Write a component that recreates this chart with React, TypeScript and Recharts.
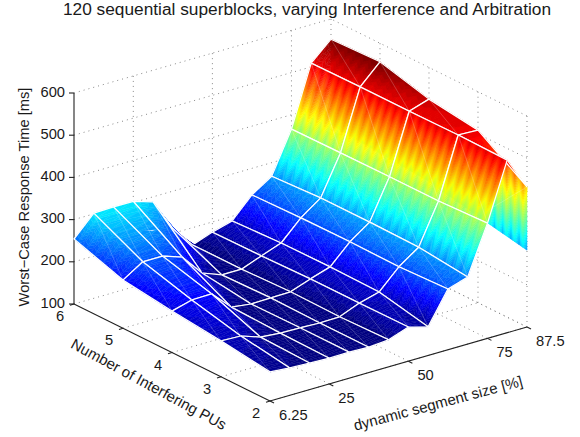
import React from 'react';
import { ScatterChart, Scatter, XAxis, YAxis } from 'recharts';

const segmentSizes = [6.25, 12.5, 18.75, 25, 31.25, 37.5, 43.75, 50, 56.25, 62.5, 68.75, 75, 81.25, 87.5];
const interferingPUs = [6, 5, 4, 3, 2];

const responsePU6 = [254, 302, 303, 303, 288, 212, 159, 176, 189, 237, 268, 366, 509, 552];
const responsePU5 = [214, 244, 244, 228, 177, 159, 159, 177, 194, 240, 274, 367, 510, 556];
const responsePU4 = [198, 211, 212, 167, 161, 162, 163, 180, 195, 241, 274, 368, 510, 525];
const responsePU3 = [185, 183, 167, 163, 162, 160, 161, 180, 193, 239, 272, 368, 511, 509];
const responsePU2 = [169, 165, 163, 161, 162, 160, 164, 181, 168, 244, 259, 373, 509, 432];
// the last column folds back down at the right wall of the box
const foldedEnd = [350, 340, 330, 305, 282];

const responseRows = [responsePU6, responsePU5, responsePU4, responsePU3, responsePU2];

const segmentTicks = [6.25, 25, 50, 75, 87.5];
const puTicks = [6, 5, 4, 3, 2];
const responseTicks = [100, 200, 300, 400, 500, 600];

const WIDTH = 580;
const HEIGHT = 437;
const COLOR_MIN = 160;
const COLOR_MAX = 555;
const COLOR_STEPS = 64;
// the original renderer leaves saw teeth on the colour bands
const TEETH = 6;
const TOOTH_DEPTH = 0.16;

type P3 = { u: number; v: number; z: number };

// fixed view of the box, same as the original camera
const project = (s: number, pu: number, z: number): P3 => ({
  u: 74 + (6 - pu) * 49 + (s - 6.25) * 3.163,
  v: 304 + (6 - pu) * 24.25 - (s - 6.25) * 0.911 - (z - 100) * 0.422,
  z,
});

const jet = (i: number) => {
  const x = i / (COLOR_STEPS - 1);
  const c = (a: number) => Math.round(Math.max(0, Math.min(1, a)) * 255);
  const r = c(Math.min(4 * x - 1.5, -4 * x + 4.5));
  const g = c(Math.min(4 * x - 0.5, -4 * x + 3.5));
  const b = c(Math.min(4 * x + 0.5, -4 * x + 2.5));
  return `rgb(${r},${g},${b})`;
};

const clipAt = (poly: P3[], level: number, keepAbove: boolean) => {
  const out: P3[] = [];
  const inside = (p: P3) => (keepAbove ? p.z >= level : p.z <= level);
  poly.forEach((p, i) => {
    const q = poly[(i + 1) % poly.length];
    if (inside(p)) out.push(p);
    if (inside(p) !== inside(q)) {
      const t = (level - p.z) / (q.z - p.z);
      out.push({ u: p.u + (q.u - p.u) * t, v: p.v + (q.v - p.v) * t, z: level });
    }
  });
  return out;
};

const bandIndex = (z: number) => {
  const step = (COLOR_MAX - COLOR_MIN) / COLOR_STEPS;
  return Math.max(0, Math.min(COLOR_STEPS - 1, Math.floor((z - COLOR_MIN) / step)));
};

const triangleBands = (tri: P3[]) => {
  const step = (COLOR_MAX - COLOR_MIN) / COLOR_STEPS;
  const bands: { points: P3[]; color: string }[] = [];
  const zs = tri.map((p) => p.z);
  const first = bandIndex(Math.min(...zs));
  const lastBand = bandIndex(Math.max(...zs));
  for (let i = first; i <= lastBand; i++) {
    let poly = tri;
    if (i > 0) poly = clipAt(poly, COLOR_MIN + i * step, true);
    if (poly.length && i < COLOR_STEPS - 1) poly = clipAt(poly, COLOR_MIN + (i + 1) * step, false);
    if (poly.length > 2) bands.push({ points: poly, color: jet(i) });
  }
  return bands;
};

const lerp = (a: P3, b: P3, t: number): P3 => ({
  u: a.u + (b.u - a.u) * t,
  v: a.v + (b.v - a.v) * t,
  z: a.z + (b.z - a.z) * t,
});

// a, d are one end of the quad, b, c the other; strips run from a-b towards d-c
const makeFacet = (a: P3, b: P3, c: P3, d: P3, mesh: boolean) => {
  const rise = (Math.abs(a.z - b.z) + Math.abs(d.z - c.z)) / 2;
  const shift = (t: number) => {
    const phase = (t * TEETH) % 1;
    return rise * TOOTH_DEPTH * ((phase < 0.5 ? phase * 2 : 2 - phase * 2) - 0.5);
  };
  const bands: { points: P3[]; color: string }[] = [];
  const strips = TEETH * 2;
  for (let i = 0; i < strips; i++) {
    const t0 = i / strips;
    const t1 = (i + 1) / strips;
    const at = (x: P3, y: P3, t: number) => {
      const p = lerp(x, y, t);
      return { ...p, z: p.z + shift(t) };
    };
    const p0 = at(a, d, t0);
    const q0 = at(b, c, t0);
    const q1 = at(b, c, t1);
    const p1 = at(a, d, t1);
    bands.push(...triangleBands([p0, q0, q1]), ...triangleBands([p0, q1, p1]));
  }
  return { u: (a.u + c.u) / 2, v: (a.v + c.v) / 2, corners: [a, b, c, d], bands, mesh };
};

const buildFacets = () => {
  const facets: ReturnType<typeof makeFacet>[] = [];
  const last = segmentSizes.length - 1;
  // folded part first, it sits behind everything
  for (let r = 0; r < interferingPUs.length - 1; r++) {
    const s = segmentSizes[last];
    facets.push(
      makeFacet(
        project(s, interferingPUs[r + 1], responseRows[r + 1][last]),
        project(s, interferingPUs[r + 1], foldedEnd[r + 1]),
        project(s, interferingPUs[r], foldedEnd[r]),
        project(s, interferingPUs[r], responseRows[r][last]),
        false,
      ),
    );
  }
  // back to front
  for (let r = 0; r < interferingPUs.length - 1; r++) {
    for (let k = last; k > 0; k--) {
      const pt = (row: number, col: number) => project(segmentSizes[col], interferingPUs[row], responseRows[row][col]);
      facets.push(makeFacet(pt(r, k), pt(r, k - 1), pt(r + 1, k - 1), pt(r + 1, k), true));
    }
  }
  return facets;
};

const facetData = buildFacets();

const FacetShape = (props: any) => {
  const { cx, cy, payload } = props;
  const dx = cx - payload.u;
  const dy = cy - payload.v;
  const str = (pts: P3[]) => pts.map((p) => `${(p.u + dx).toFixed(1)},${(p.v + dy).toFixed(1)}`).join(' ');
  const [a, b, c, d] = payload.corners as P3[];
  return (
    <g>
      {payload.bands.map((band: any, i: number) => (
        <polygon key={i} points={str(band.points)} fill={band.color} stroke={band.color} strokeWidth={0.4} />
      ))}
      <line x1={a.u + dx} y1={a.v + dy} x2={c.u + dx} y2={c.v + dy} stroke="#fff" strokeOpacity={0.3} strokeWidth={0.7} />
      {payload.mesh && <polygon points={str([a, b, c, d])} fill="none" stroke="#fff" strokeWidth={1.25} />}
    </g>
  );
};

const TextShape = (props: any) => {
  const { cx, cy, payload } = props;
  return (
    <text
      x={cx}
      y={cy}
      fontFamily="'Liberation Sans', Arial, sans-serif"
      fontSize={payload.size ?? 14.7}
      fill="#1a1a1a"
      textAnchor={payload.anchor ?? 'middle'}
      dominantBaseline="central"
      transform={payload.rotate ? `rotate(${payload.rotate} ${cx} ${cy})` : undefined}
    >
      {payload.text}
    </text>
  );
};

const NoPoint = () => <g />;

const segment = (a: P3, b: P3) => [a, b];
const sMin = segmentTicks[0];
const sMax = segmentTicks[segmentTicks.length - 1];
const zMin = responseTicks[0];
const zMax = responseTicks[responseTicks.length - 1];

const gridLines: P3[][] = [
  ...responseTicks.map((z) => [project(sMin, 6, z), project(sMax, 6, z), project(sMax, 2, z)]),
  ...segmentTicks.slice(1).map((s) => segment(project(s, 6, zMin), project(s, 6, zMax))),
  ...puTicks.slice(1).map((p) => segment(project(sMax, p, zMin), project(sMax, p, zMax))),
  ...segmentTicks.slice(1).map((s) => segment(project(s, 2, zMin), project(s, 6, zMin))),
  ...puTicks.slice(1).map((p) => segment(project(sMin, p, zMin), project(sMax, p, zMin))),
];

const axisLines: P3[][] = [
  segment(project(sMin, 6, zMin), project(sMin, 6, zMax)),
  segment(project(sMin, 6, zMin), project(sMin, 2, zMin)),
  segment(project(sMin, 2, zMin), project(sMax, 2, zMin)),
  ...responseTicks.map((z) => {
    const p = project(sMin, 6, z);
    return [p, { ...p, u: p.u - 5 }];
  }),
  ...puTicks.map((pu) => {
    const p = project(sMin, pu, zMin);
    return [p, { ...p, u: p.u - 4, v: p.v + 1.2 }];
  }),
  ...segmentTicks.map((s) => {
    const p = project(s, 2, zMin);
    return [p, { ...p, u: p.u + 4, v: p.v + 2 }];
  }),
];

const textData = [
  { u: 307, v: 9, text: '120 sequential superblocks, varying Interference and Arbitration', size: 17.3 },
  { u: 24, v: 197, text: 'Worst\u2212Case Response Time [ms]', rotate: -90 },
  { u: 149, v: 384, text: 'Number of Interfering PUs', rotate: 28.5, size: 15 },
  { u: 438, v: 403, text: 'dynamic segment size [%]', rotate: -15, size: 15 },
  ...responseTicks.map((z) => {
    const p = project(sMin, 6, z);
    return { u: p.u - 9, v: p.v - 1.5, text: String(z), anchor: 'end' };
  }),
  ...puTicks.map((pu) => {
    const p = project(sMin, pu, zMin);
    return { u: p.u - 14, v: p.v + 12, text: String(pu) };
  }),
  ...segmentTicks.map((s) => {
    const p = project(s, 2, zMin);
    return { u: p.u + 9, v: p.v + 14, text: String(s), anchor: 'start' };
  }),
];

export default function App() {
  return (
    <div style={{ position: 'absolute', left: 0, top: 0, width: WIDTH, height: HEIGHT, background: '#fff' }}>
      <ScatterChart width={WIDTH} height={HEIGHT} margin={{ top: 0, right: 0, bottom: 0, left: 0 }}>
        <XAxis type="number" dataKey="u" domain={[0, WIDTH]} hide />
        <YAxis type="number" dataKey="v" domain={[0, HEIGHT]} reversed hide />
        {gridLines.map((line, i) => (
          <Scatter
            key={`grid-${i}`}
            data={line}
            line={{ stroke: '#888', strokeWidth: 1, strokeDasharray: '1 4' }}
            shape={NoPoint}
            isAnimationActive={false}
          />
        ))}
        {axisLines.map((line, i) => (
          <Scatter
            key={`axis-${i}`}
            data={line}
            line={{ stroke: '#222', strokeWidth: 1.1 }}
            shape={NoPoint}
            isAnimationActive={false}
          />
        ))}
        <Scatter data={facetData} shape={FacetShape} isAnimationActive={false} />
        <Scatter data={textData} shape={TextShape} isAnimationActive={false} />
      </ScatterChart>
    </div>
  );
}
